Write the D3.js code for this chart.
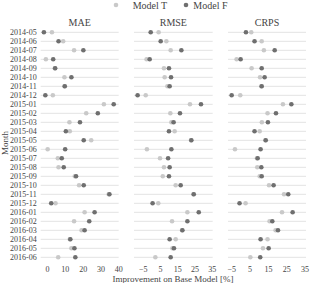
<!DOCTYPE html>
<html><head><meta charset="utf-8">
<script src="https://cdn.jsdelivr.net/npm/d3@7"></script>
<style>body{margin:0;background:#fff}svg{display:block}</style>
</head><body><svg id="c" width="310" height="283"></svg>
<script>
const months = ["2014-05","2014-06","2014-07","2014-08","2014-09","2014-10","2014-11","2014-12",
"2015-01","2015-02","2015-03","2015-04","2015-05","2015-06","2015-07","2015-08","2015-09","2015-10","2015-11","2015-12",
"2016-01","2016-02","2016-03","2016-04","2016-05","2016-06"];
const metrics = ["MAE","RMSE","CRPS"];
const maeT  = [2.8,9.1,15.2,-0.6,4.4,9.8,9.8,3.3,31.9,22.0,12.6,12.8,24.8,0.4,6.1,6.5,15.6,18.0,34.6,4.8,21.1,15.2,19.4,12.8,13.7,6.3];
const maeF  = [-1.7,6.5,20.4,3.5,4.6,13.7,10.0,-0.9,37.4,28.5,18.5,10.6,20.6,10.2,8.3,9.4,16.3,20.6,35.0,2.4,26.7,23.7,21.1,13.1,15.4,15.9];
const rmseT = [4.2,8.7,11.2,-2.8,7.3,7.7,9.3,-3.3,22.4,11.0,11.6,13.5,23.0,-2.6,5.0,7.3,6.6,14.1,24.4,4.0,20.9,12.0,17.8,14.1,12.2,2.3];
const rmseF = [-0.4,5.4,17.4,-1.0,10.2,11.4,10.6,-8.0,28.8,16.6,12.9,10.2,23.2,11.6,9.7,10.6,10.2,17.0,24.6,0.7,27.5,20.9,18.0,10.6,13.1,11.2];
const crpsT = [5.9,11.6,12.8,-2.1,6.1,10.7,11.4,-0.1,23.2,14.8,11.7,10.5,13.6,-3.0,9.0,9.2,10.5,15.6,23.8,2.8,22.7,15.9,19.2,14.8,12.3,5.4];
const crpsF = [3.0,7.7,18.7,0.1,11.6,13.2,11.6,-4.8,27.8,19.4,15.0,7.7,13.8,11.0,9.4,11.4,11.6,18.1,26.1,-0.5,28.5,17.4,20.5,11.0,15.4,10.8];
const ticksMAE = [0,10,20,30,40];
const ticksOther = [-5,5,15,25,35];

const FONT = "'Liberation Serif'";
const series = {MAE:[maeT,maeF], RMSE:[rmseT,rmseF], CRPS:[crpsT,crpsF]};
const panels = [
  {name:"MAE", domain:[-3.5,40.2], range:[40.7,118.7], ticks:ticksMAE},
  {name:"RMSE", domain:[-10.1,35.6], range:[134,212.7], ticks:ticksOther},
  {name:"CRPS", domain:[-6.8,35.8], range:[228,306], ticks:ticksOther}
];
const colT = "#c9c9c9", colF = "#6f6f6f", txt = "#444";
const svg = d3.select("#c");
const y = d3.scalePoint().domain(months).range([32.3,257.3]);

svg.append("g").selectAll("text").data(months).join("text")
  .attr("x",36.7).attr("y",d=>y(d)).attr("dy","0.35em").attr("text-anchor","end")
  .style("font-family",FONT).style("font-size","8px").style("fill",txt).text(d=>d);

panels.forEach(p=>{
  const x = d3.scaleLinear().domain(p.domain).range(p.range);
  const g = svg.append("g");
  g.selectAll("line.grid").data(months).join("line")
    .attr("x1",p.range[0]).attr("x2",p.range[1]).attr("y1",d=>y(d)).attr("y2",d=>y(d))
    .attr("stroke","#e3e3e3").attr("stroke-width",1);
  const [tv,fv] = series[p.name];
  g.selectAll("circle.t").data(months).join("circle")
    .attr("cx",(d,i)=>x(tv[i])).attr("cy",d=>y(d)).attr("r",2.3).attr("fill",colT);
  g.selectAll("circle.f").data(months).join("circle")
    .attr("cx",(d,i)=>x(fv[i])).attr("cy",d=>y(d)).attr("r",2.3).attr("fill",colF);
  const ax = g.append("g").attr("transform","translate(0,266.4)")
    .call(d3.axisBottom(x).tickValues(p.ticks).tickSize(0).tickPadding(0).tickFormat(d=>d<0?"\u2212"+Math.abs(d):d));
  ax.select(".domain").remove();
  ax.selectAll("text").attr("dy","0.71em")
    .style("font-family",FONT).style("font-size","8px").style("fill",txt);
  g.append("text").attr("x",(p.range[0]+p.range[1])/2).attr("y",22.3).attr("dy","0.35em")
    .attr("text-anchor","middle").style("font-family",FONT).style("font-size","10px").style("fill",txt).text(p.name);
});

svg.append("text").attr("x",173).attr("y",278.7).attr("dy","0.35em").attr("text-anchor","middle")
  .style("font-family",FONT).style("font-size","9px").style("fill",txt).text("Improvement on Base Model [%]");
svg.append("text").attr("transform","translate(4.6,143) rotate(-90)").attr("dy","0.35em")
  .attr("text-anchor","middle").style("font-family",FONT).style("font-size","9px").style("fill",txt).text("Month");

const leg = [{label:"Model T",c:colT,cx:116,tx:132.7},{label:"Model F",c:colF,cx:186,tx:193.3}];
const lg = svg.append("g");
lg.selectAll("circle").data(leg).join("circle").attr("cx",d=>d.cx).attr("cy",5).attr("r",2.3).attr("fill",d=>d.c);
lg.selectAll("text").data(leg).join("text").attr("x",d=>d.tx).attr("y",5).attr("dy","0.35em")
  .style("font-family",FONT).style("font-size","10px").style("fill",txt).text(d=>d.label);
</script></body></html>
